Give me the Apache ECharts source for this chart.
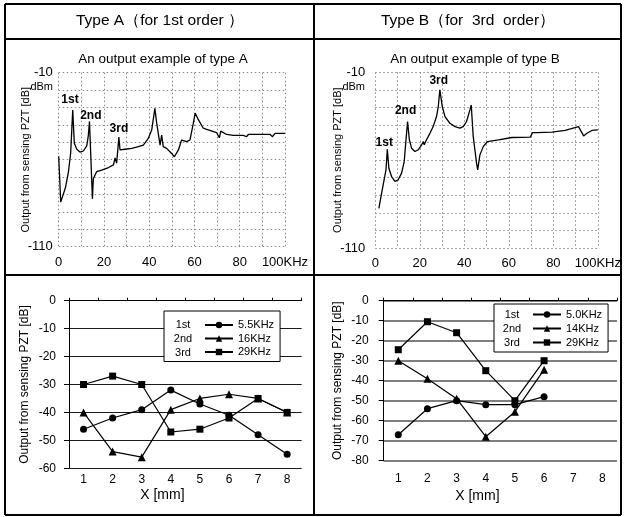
<!DOCTYPE html>
<html>
<head>
<meta charset="utf-8">
<script src="https://cdn.jsdelivr.net/npm/echarts@6/dist/echarts.min.js"></script>
<style>
html, body { margin: 0; padding: 0; background: #fff; }
#chart { width: 624px; height: 517px; }
</style>
</head>
<body>
<div id="chart"></div>
<script>
// top row: frequency sweeps (kHz, dB)
const freqA = [0, 0.9, 3, 4.3, 5.3, 6.2, 6.9, 8, 9.4, 10.9, 12.4, 13.1, 13.6, 14.9, 15.3, 16.8, 19, 22, 24.2, 24.9,
  25.6, 26.6, 27.1, 29.3, 32.3, 35.2, 37.4, 39.6, 41.1, 42.5, 43.3, 44.8, 45.5, 46.2, 47.7, 49.9, 51.1, 52.9, 54.3,
  56.6, 58, 59.5, 60.3, 61.7, 63.9, 65.4, 69.8, 71, 71.6, 74.2, 77.2, 81.6, 83, 83.8, 87.5, 93.4, 94.5, 95.6, 100]
const levelA = [-58, -84.4, -76, -67, -56, -31.5, -50.6, -54, -55.6, -55, -52, -46, -38, -82.5, -71, -66.8, -66, -64.5, -63, -59,
  -62, -47, -54.4, -54, -53.5, -52.5, -51.6, -47.7, -43, -30.5, -39, -51.6, -45.8, -52.5, -53.5, -56.4, -58.3, -54.4, -48.7,
  -49.6, -48.7, -39, -33.2, -37, -41.9, -42.6, -44.5, -47.4, -43.6, -45.5, -46, -46, -46.8, -45.5, -45.5, -45.5, -46.8, -44.9, -44.9]

const freqB = [1.6, 2.8, 4, 4.8, 5.4, 6.1, 7.3, 8.8, 10.3, 11.8, 13, 13.6, 14.5, 15.3, 16.3, 17.8, 19.3, 20.8, 21.6, 22,
  23, 24.6, 26, 27.5, 28.3, 29, 30.1, 31.3, 33.5, 35.8, 38, 39.5, 41, 42.5, 43.1, 44, 45.5, 46, 47, 48.5,
  50.4, 55.4, 61.4, 69.6, 70.7, 72.6, 79.3, 85.3, 91.3, 92.1, 93.6, 95.1, 97.3, 100]
const levelB = [-87.5, -79, -71, -65.5, -53.8, -64.6, -69.3, -72.1, -71.2, -67.4, -60.8, -51.3, -38, -48.4, -53.2, -55.1, -54.1, -51.3, -49.4, -51.3,
  -48.4, -44.6, -40.9, -35.2, -29.5, -20, -29.5, -35.2, -39, -40.9, -41.8, -40.9, -38, -31.4, -28.6, -46.6, -61.7, -65.5, -57, -52.3,
  -49.4, -48.4, -47.1, -46.9, -44.3, -44.3, -44.1, -43.1, -40.9, -40.5, -46.2, -44.7, -43.1, -42.8]

// peak labels (placed in data coords)
const peakNames = ['1st', '2nd', '3rd']
const peakAFreq = [5, 14.2, 26.6]
const peakALevel = [-25.7, -34.9, -42]
const peakBFreq = [4, 13.6, 28.5]
const peakBLevel = [-50, -31.9, -14.8]

// bottom row: output vs position
const positions = ['1', '2', '3', '4', '5', '6', '7', '8']
const namesA = ['5.5KHz', '16KHz', '29KHz']
const a1st = [-46, -42, -39, -32, -37, -41, -48, -55]
const a2nd = [-40, -54, -56, -39, -35, -33.5, -35, -40]
const a3rd = [-30, -27, -30, -47, -46, -42, -35, -40]
const namesB = ['5.0KHz', '14KHz', '29KHz']
const b1st = [-67, -54, -50, -52, -52, -48]
const b2nd = [-30, -39, -49, -68, -55.5, -34.5]
const b3rd = [-24.5, -10.5, -16, -35, -50, -30]

const FONT = '"Liberation Sans", Arial, sans-serif'
const Y_NAME = 'Output from sensing PZT [dB]'
const dotted = { type: [1.5, 2.5], color: '#8a8a8a', width: 1 }

const chart = echarts.init(document.getElementById('chart'))

function sweepX(gridIndex) {
  return {
    type: 'value', gridIndex, min: 0, max: 100, interval: 10,
    axisLine: { show: false }, axisTick: { show: false },
    splitLine: { show: true, lineStyle: dotted },
    axisLabel: {
      color: '#000', fontSize: 13, fontFamily: FONT, margin: 9,
      formatter: (v) => (v % 20 ? '' : v === 100 ? '100KHz' : String(v)),
    },
  }
}

function sweepY(gridIndex, gap, margin) {
  return {
    type: 'value', gridIndex, min: -110, max: -10, interval: 10,
    axisLine: { show: false }, axisTick: { show: false },
    splitLine: { show: true, lineStyle: dotted },
    axisLabel: {
      color: '#000', fontSize: 13, fontFamily: FONT, margin,
      formatter: (v) => (v === -10 || v === -110 ? String(v) : ''),
    },
    name: Y_NAME, nameLocation: 'middle', nameGap: gap, nameMoveOverlap: false,
    nameTextStyle: { color: '#000', fontSize: 11, fontFamily: FONT },
  }
}

function posX(gridIndex, margin, gap) {
  return {
    type: 'category', gridIndex, data: positions, position: 'bottom',
    axisLine: { show: true, lineStyle: { color: '#000' } },
    axisTick: { show: false },
    axisLabel: { color: '#000', fontSize: 12, fontFamily: FONT, margin },
    name: 'X [mm]', nameLocation: 'middle', nameGap: gap,
    nameTextStyle: { color: '#000', fontSize: 14, fontFamily: FONT, padding: [0, 46, 0, 0] },
  }
}

function posXTop(gridIndex) {
  return {
    type: 'category', gridIndex, data: positions, position: 'top',
    axisLine: { show: true, lineStyle: { color: '#000' } },
    axisTick: { show: true, length: 3, lineStyle: { color: '#000' } },
    axisLabel: { show: false },
  }
}

function posY(gridIndex, min, gap, margin, gridColor, gridWidth) {
  return {
    type: 'value', gridIndex, min, max: 0, interval: 10,
    axisLine: { show: true, lineStyle: { color: '#000' } },
    axisTick: { show: true, length: 5, lineStyle: { color: '#000' } },
    splitLine: { show: true, lineStyle: { color: gridColor, width: gridWidth } },
    axisLabel: { color: '#000', fontSize: 12, fontFamily: FONT, margin },
    name: Y_NAME, nameLocation: 'middle', nameGap: gap,
    nameTextStyle: { color: '#000', fontSize: 12, fontFamily: FONT },
  }
}

function sweepSeries(idx, freq, level, pf, pl) {
  return {
    type: 'line', xAxisIndex: idx, yAxisIndex: idx,
    data: freq.map((f, i) => [f, level[i]]),
    showSymbol: false, silent: true,
    lineStyle: { color: '#000', width: 1.3 },
    markPoint: {
      symbol: 'circle', symbolSize: 1, itemStyle: { color: 'rgba(0,0,0,0)' },
      label: { show: true, position: 'inside', formatter: '{b}', color: '#000', fontSize: 12, fontWeight: 'bold', fontFamily: FONT },
      data: peakNames.map((n, i) => ({ name: n, coord: [pf[i], pl[i]] })),
    },
  }
}

const symbols = ['circle', 'triangle', 'rect']
const symbolSizes = [7, 8, 7]

function posSeries(idx, xIdx, names, sets) {
  return sets.map((d, i) => ({
    type: 'line', name: names[i], xAxisIndex: xIdx, yAxisIndex: idx, data: d,
    symbol: symbols[i], symbolSize: symbolSizes[i],
    itemStyle: { color: '#000' }, lineStyle: { color: '#000', width: 1.2 },
  }))
}

function legendBox(left, top, names, rowGap, pad) {
  return {
    orient: 'vertical', left, top, data: names,
    padding: pad, itemGap: rowGap, itemWidth: 28, itemHeight: 8,
    backgroundColor: '#fff', borderColor: '#000', borderWidth: 1,
    textStyle: { color: '#000', fontSize: 11, fontFamily: FONT },
    selectedMode: false,
  }
}

function txt(x, y, s, size, extra) {
  return {
    type: 'text', x, y, z: 100,
    style: Object.assign({ text: s, fill: '#000', font: size + 'px ' + FONT, textAlign: 'center', textVerticalAlign: 'middle' }, extra || {}),
  }
}

function line(x1, y1, x2, y2) {
  return { type: 'line', z: 100, shape: { x1, y1, x2, y2 }, style: { stroke: '#000', lineWidth: 2 } }
}

chart.setOption({
  animation: false,
  backgroundColor: '#fff',
  grid: [
    { left: 58.7, top: 72.7, width: 226.3, height: 174 },
    { left: 375.3, top: 72.3, width: 222.7, height: 175.7 },
    { left: 69, top: 300.7, width: 232.7, height: 167.6 },
    { left: 383.7, top: 300.7, width: 233.3, height: 160 },
  ],
  xAxis: [
    sweepX(0), sweepX(1),
    posX(2, 5, 20), posX(3, 12, 28),
    posXTop(2), posXTop(3),
  ],
  yAxis: [
    sweepY(0, 27, 6), sweepY(1, 32, 10),
    posY(2, -60, 38, 13, '#1a1a1a', 1),
    posY(3, -80, 40, 15, '#555', 1.6),
  ],
  legend: [
    legendBox(164, 311, namesA, 2.5, [8.5, 6, 4, 40]),
    legendBox(494, 304, namesB, 3, [5, 6, 4, 38]),
  ],
  series: [
    sweepSeries(0, freqA, levelA, peakAFreq, peakALevel),
    sweepSeries(1, freqB, levelB, peakBFreq, peakBLevel),
    ...posSeries(2, 2, namesA, [a1st, a2nd, a3rd]),
    ...posSeries(3, 3, namesB, [b1st, b2nd, b3rd]),
  ],
  graphic: [
    line(5, 4, 621, 4), line(5, 515, 621, 515),
    line(5, 4, 5, 515), line(621, 4, 621, 515),
    line(5, 39, 621, 39), line(5, 275, 621, 275),
    line(314, 4, 314, 515),
    txt(160, 21, 'Type A（for 1st order ）', 15.5),
    txt(468, 21, 'Type B（for  3rd  order）', 15.5),
    txt(163, 59, 'An output example of type A', 13.5),
    txt(475, 59, 'An output example of type B', 13.5),
    txt(53, 87, 'dBm', 11, { textAlign: 'right' }),
    txt(365, 87, 'dBm', 11, { textAlign: 'right' }),
    txt(183, 325, '1st', 11), txt(183, 339, '2nd', 11), txt(183, 352.5, '3rd', 11),
    txt(512, 314.5, '1st', 11), txt(512, 328.5, '2nd', 11), txt(512, 342.5, '3rd', 11),
  ],
})
</script>
</body>
</html>
